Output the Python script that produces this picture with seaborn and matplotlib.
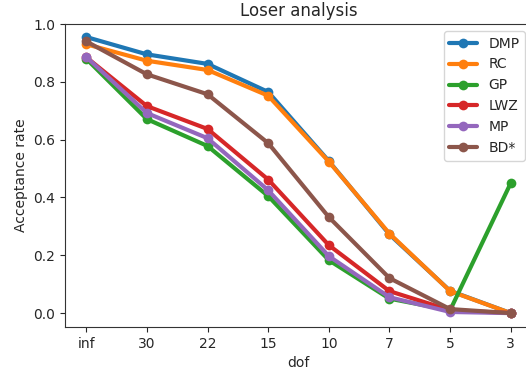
import matplotlib
matplotlib.use("Agg")
import matplotlib.pyplot as plt
import seaborn as sns
import pandas as pd

dof = ["inf", "30", "22", "15", "10", "7", "5", "3"]
dmp = [0.955, 0.895, 0.862, 0.765, 0.526, 0.272, 0.077, 0.0]
rc = [0.930, 0.873, 0.841, 0.752, 0.524, 0.275, 0.076, 0.0]
gp = [0.880, 0.671, 0.578, 0.405, 0.183, 0.050, 0.010, 0.450]
lwz = [0.885, 0.716, 0.637, 0.462, 0.235, 0.076, 0.010, 0.0]
mp = [0.886, 0.692, 0.605, 0.425, 0.197, 0.055, 0.004, 0.0]
bd = [0.940, 0.826, 0.757, 0.588, 0.332, 0.121, 0.014, 0.0]

series = {"DMP": dmp, "RC": rc, "GP": gp, "LWZ": lwz, "MP": mp, "BD*": bd}
rows = []
for name, vals in series.items():
    for d, v in zip(dof, vals):
        rows.append({"dof": d, "rate": v, "method": name})
df = pd.DataFrame(rows)

sns.set_style("ticks")
plt.rcParams["font.family"] = ["DejaVu Sans"]

fig = plt.figure(figsize=(5.26, 3.74), dpi=100)
ax = fig.add_axes([65 / 526, 47 / 374, 467 / 526, 303 / 374])

palette = sns.color_palette("tab10", 6)
sns.lineplot(data=df, x="dof", y="rate", hue="method", palette=palette,
             marker="o", markersize=7, markeredgewidth=0, linewidth=3,
             sort=False, ax=ax)

ax.set_ylim(-0.048, 1.0)
ax.set_yticks([0.0, 0.2, 0.4, 0.6, 0.8, 1.0])
ax.set_xlabel("dof")
ax.set_ylabel("Acceptance rate")
ax.set_title("Loser analysis")
for s in ax.spines.values():
    s.set_color("#333333")
ax.legend(loc="upper right", title=None, fontsize=10)

fig.savefig("out.png", dpi=100)
